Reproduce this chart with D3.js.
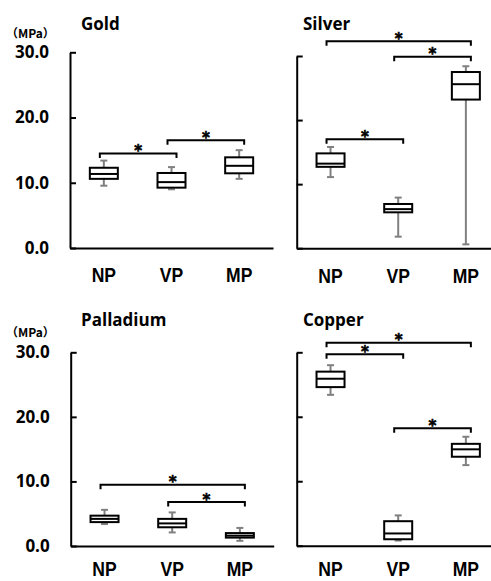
<!DOCTYPE html>
<html><head><meta charset="utf-8">
<script src="https://cdn.jsdelivr.net/npm/d3@7"></script>
<style>
html,body{margin:0;padding:0;background:#fff;}
svg{display:block;}
</style></head>
<body>
<svg id="chart" width="491" height="581"></svg>
<script>
// Groups and panels
const categories = ["NP", "VP", "MP"];
const metals = ["Gold", "Silver", "Palladium", "Copper"];
const yTicks = [0, 10, 20, 30];
const unitLabel = "（MPa）";

// Five-number summaries in MPa: [lower whisker, Q1, median, Q3, upper whisker], one row per group
const goldStats      = [[9.55, 10.6, 11.35, 12.3, 13.4], [9.0, 9.25, 10.1, 11.5, 12.4], [10.6, 11.45, 12.6, 13.9, 15.0]];
const silverStats    = [[11.1, 12.7, 13.2, 14.8, 15.8], [1.8, 5.6, 6.1, 6.9, 7.9], [0.6, 23.2, 25.6, 27.5, 28.4]];
const palladiumStats = [[3.4, 3.7, 4.2, 4.7, 5.6], [2.1, 2.9, 3.5, 4.2, 5.2], [0.8, 1.3, 1.6, 2.0, 2.8]];
const copperStats    = [[23.4, 24.6, 25.9, 27.0, 28.0], [0.8, 1.0, 1.9, 3.8, 4.7], [12.5, 13.8, 14.95, 15.8, 16.9]];

// Significant differences: [group A, group B, bracket height in MPa]
const goldSig      = [["NP", "VP", 14.5], ["VP", "MP", 16.5]];
const silverSig    = [["NP", "MP", 32.3], ["VP", "MP", 29.9], ["NP", "VP", 17.0]];
const palladiumSig = [["NP", "MP", 9.5], ["VP", "MP", 6.8]];
const copperSig    = [["NP", "MP", 31.5], ["NP", "VP", 29.7], ["VP", "MP", 18.2]];

const statsByMetal = [goldStats, silverStats, palladiumStats, copperStats];
const sigByMetal = [goldSig, silverSig, palladiumSig, copperSig];

// Panel frames (pixel geometry); labelGap = axis line to category-label baseline
const frames = [
  {left: 70,    bottom: 248,   top: 52.3,  tickLabels: true,  titleX: 81,  titleY: 30,  unitY: 37.5,  labelGap: 34.5},
  {left: 296.7, bottom: 248.2, top: 56,    tickLabels: false, titleX: 303, titleY: 29.5,               labelGap: 34.5},
  {left: 70.7,  bottom: 546,   top: 352.3, tickLabels: true,  titleX: 81,  titleY: 326, unitY: 336.5, labelGap: 30.5},
  {left: 296.7, bottom: 545.7, top: 352.3, tickLabels: false, titleX: 303, titleY: 325.5,              labelGap: 30.8}
];
const axisLength = 203;
const boxWidth = 28;
const capWidth = 7;
const whiskerColor = "#808080";
const ink = "#000";
const mainFont = "'Open Sans', 'Liberation Sans', Arial, sans-serif";
const labelFont = "'Liberation Sans', Arial, sans-serif";
const labelSize = 19.5;

const svg = d3.select("#chart");

metals.forEach((metal, m) => {
  const f = frames[m];
  const stats = statsByMetal[m];
  const g = svg.append("g");

  const x = d3.scaleBand().domain(categories).range([f.left, f.left + axisLength]).padding(0);
  const y = d3.scaleLinear().domain([0, 30]).range([f.bottom, f.top]);
  const cx = c => x(c) + x.bandwidth() / 2;

  // y axis with inward ticks
  const yAxis = d3.axisLeft(y).tickValues(yTicks).tickSizeInner(-6).tickSizeOuter(0).tickPadding(21)
    .tickFormat(f.tickLabels ? d3.format(".1f") : () => "");
  const ya = g.append("g").attr("transform", `translate(${f.left},0)`).call(yAxis);
  ya.select(".domain").attr("stroke", ink).attr("stroke-width", 2);
  ya.selectAll(".tick line").attr("stroke", ink).attr("stroke-width", 2);
  ya.selectAll(".tick text")
    .attr("fill", ink)
    .style("font-family", mainFont).style("font-weight", 700).style("font-size", "17px");

  // x axis: category labels with their baseline labelGap below the line
  const xAxis = d3.axisBottom(x).tickSize(0).tickPadding(0);
  const xa = g.append("g").attr("transform", `translate(0,${f.bottom})`).call(xAxis);
  xa.select(".domain").attr("stroke", ink).attr("stroke-width", 2);
  xa.selectAll(".tick text")
    .attr("fill", ink)
    .attr("y", f.labelGap).attr("dy", null)
    .attr("transform", "scale(0.9,1)")
    .style("font-family", labelFont).style("font-weight", 700).style("font-size", labelSize + "px");

  // panel title
  g.append("text")
    .attr("x", f.titleX).attr("y", f.titleY)
    .attr("fill", ink)
    .style("font-family", mainFont).style("font-weight", 700).style("font-size", "17px")
    .text(metal);

  if (f.tickLabels) {
    g.append("text")
      .attr("x", 6).attr("y", f.unitY)
      .attr("fill", ink)
      .style("font-family", "'Noto Sans CJK JP', 'Noto Sans', sans-serif")
      .style("font-weight", 700).style("font-size", "12px")
      .text(unitLabel);
  }

  // box plots
  const boxes = g.selectAll("g.box").data(categories.map((c, i) => ({c, s: stats[i]})))
    .enter().append("g").attr("class", "box");

  boxes.each(function(d) {
    const b = d3.select(this);
    const c = cx(d.c);
    const [lo, q1, med, q3, hi] = d.s;
    // whiskers
    b.append("line").attr("x1", c).attr("x2", c).attr("y1", y(q3)).attr("y2", y(hi))
      .attr("stroke", whiskerColor).attr("stroke-width", 2);
    b.append("line").attr("x1", c).attr("x2", c).attr("y1", y(q1)).attr("y2", y(lo))
      .attr("stroke", whiskerColor).attr("stroke-width", 2);
    [lo, hi].forEach(v => {
      b.append("line").attr("x1", c - capWidth / 2).attr("x2", c + capWidth / 2)
        .attr("y1", y(v)).attr("y2", y(v))
        .attr("stroke", whiskerColor).attr("stroke-width", 2);
    });
    // interquartile box
    b.append("rect")
      .attr("x", c - boxWidth / 2).attr("width", boxWidth)
      .attr("y", y(q3)).attr("height", y(q1) - y(q3))
      .attr("fill", "#fff").attr("stroke", ink).attr("stroke-width", 2);
    // median
    b.append("line").attr("x1", c - boxWidth / 2).attr("x2", c + boxWidth / 2)
      .attr("y1", y(med)).attr("y2", y(med))
      .attr("stroke", ink).attr("stroke-width", 2);
  });

  // significance brackets
  sigByMetal[m].forEach(([a, b2, level]) => {
    const x1 = cx(a) - 4, x2 = cx(b2) + 5, yb = y(level);
    g.append("path")
      .attr("d", `M${x1},${yb + 4.5}V${yb}H${x2}V${yb + 4.5}`)
      .attr("fill", "none").attr("stroke", ink).attr("stroke-width", 2);
    g.append("text")
      .attr("x", (x1 + x2) / 2).attr("y", yb + 2.5)
      .attr("text-anchor", "middle").attr("fill", ink)
      .attr("stroke", ink).attr("stroke-width", 0.6)
      .style("font-family", "'DejaVu Sans', sans-serif")
      .style("font-weight", 700).style("font-size", "15px")
      .text("*");
  });
});
</script>
</body></html>
